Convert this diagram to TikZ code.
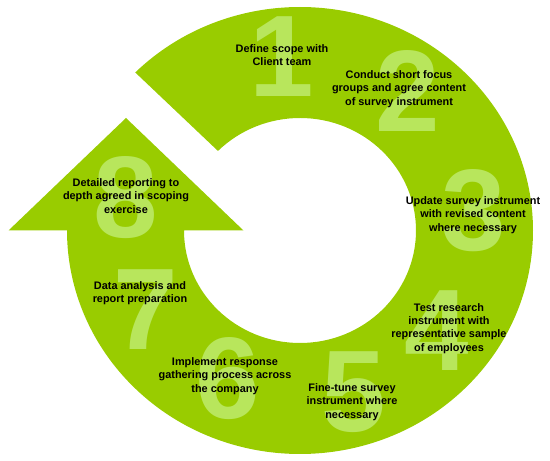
\documentclass[tikz,border=0pt]{standalone}
\usepackage{fontspec}
\usetikzlibrary{calc}
\setmainfont{Liberation Sans}
\definecolor{ringgreen}{RGB}{153,204,0}
\definecolor{numgreen}{RGB}{184,230,92}
\begin{document}
\begin{tikzpicture}[x=1pt,y=1pt,
  num/.style={text=numgreen, font=\fontsize{116}{116}\selectfont\bfseries, inner sep=0pt, anchor=center},
  lbl/.style={font=\fontsize{10.9}{13.3}\selectfont\bfseries, align=center, inner sep=0pt, text=black}]
\useasboundingbox (0,0) rectangle (550,461);
\coordinate (C) at (300,230.5);
\coordinate (Ostart) at ($(C)+(135:233 and 223.5)$);
\coordinate (AL) at (8.5,230.5);
\coordinate (AT) at (126,343);
\coordinate (AR) at (243.5,230.5);
\coordinate (Iend) at ($(C)+(180:116 and 112.5)$);
\fill[ringgreen] (Ostart) arc[start angle=135, end angle=-180, x radius=233, y radius=223.5]
  -- (AL) -- (AT) -- (AR) -- (Iend)
  arc[start angle=180, end angle=495, x radius=116, y radius=112.5] -- cycle;
% big numbers
\node[num] (n1) at (282,404) {1};
\node[num] (n2) at (408,370) {2};
\node[num] (n3) at (474,250) {3};
\node[num] (n4) at (437,130) {4};
\node[num] (n5) at (354,69) {5};
\node[num] (n6) at (228,82) {6};
\node[num] (n7) at (146,151) {7};
\node[num] (n8) at (126,263) {8};
% labels
\node[lbl] (t1) at (282,406) {Define scope with\\Client team};
\node[lbl] (t2) at (399,372) {Conduct short focus\\groups and agree content\\of survey instrument};
\node[lbl] (t3) at (473,246) {Update survey instrument\\with revised content\\where necessary};
\node[lbl] (t4) at (449,132.5) {Test research\\instrument with\\representative sample\\of employees};
\node[lbl] (t5) at (352,59) {Fine-tune survey\\instrument where\\necessary};
\node[lbl] (t6) at (225,85) {Implement response\\gathering process across\\the company};
\node[lbl] (t7) at (140,167.5) {Data analysis and\\report preparation};
\node[lbl] (t8) at (126,265) {Detailed reporting to\\depth agreed in scoping\\exercise};
\end{tikzpicture}
\end{document}
